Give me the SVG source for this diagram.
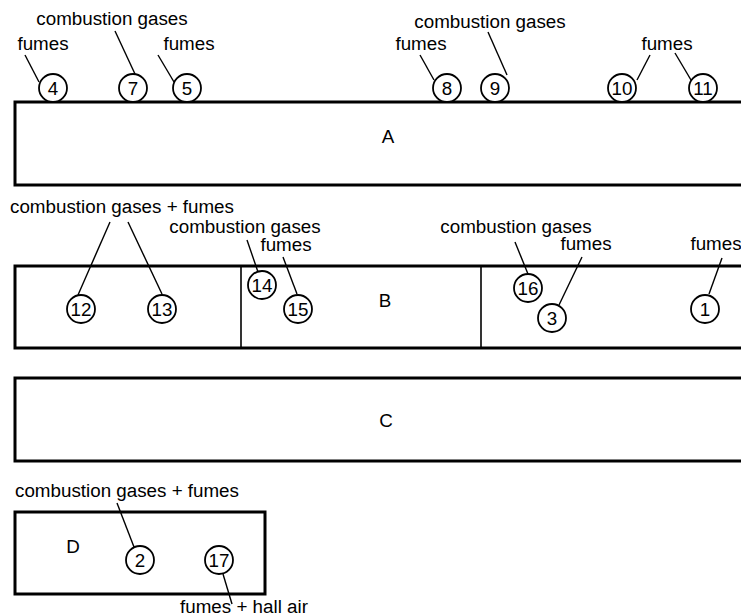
<svg xmlns="http://www.w3.org/2000/svg" width="741" height="616" viewBox="0 0 741 616">
  <style>
    .box { fill: none; stroke: #000; stroke-width: 3; }
    .div { fill: none; stroke: #000; stroke-width: 1.6; }
    .pt circle { fill: #fff; stroke: #000; stroke-width: 1.8; }
    .lead { stroke: #000; stroke-width: 1.4; fill: none; }
    text { font-family: "Liberation Sans", Arial, sans-serif; font-size: 18.8px; fill: #000; }
    .num { text-anchor: middle; }
    .lbl { text-anchor: middle; }
  </style>
  <rect width="741" height="616" fill="#fff"/>

  <!-- Sections -->
  <g id="A">
    <rect class="box" x="15" y="102" width="740" height="83"/>
    <text x="388" y="143" class="lbl">A</text>
  </g>
  <g id="B">
    <rect class="box" x="15" y="266" width="740" height="82"/>
    <line class="div" x1="241" y1="266" x2="241" y2="348"/>
    <line class="div" x1="481" y1="266" x2="481" y2="348"/>
    <text x="385" y="307" class="lbl">B</text>
  </g>
  <g id="C">
    <rect class="box" x="15" y="378" width="740" height="83"/>
    <text x="386" y="427" class="lbl">C</text>
  </g>
  <g id="D">
    <rect class="box" x="15" y="512" width="250" height="82"/>
    <text x="73" y="553" class="lbl">D</text>
  </g>

  <!-- Leader lines -->
  <g id="connectors">
    <line class="lead" x1="39" y1="82" x2="25" y2="55"/>
    <line class="lead" x1="135" y1="74" x2="115" y2="31"/>
    <line class="lead" x1="174" y1="82" x2="158" y2="55"/>
    <line class="lead" x1="434" y1="80" x2="420" y2="55"/>
    <line class="lead" x1="507" y1="75" x2="488" y2="32"/>
    <line class="lead" x1="637" y1="80" x2="650" y2="55"/>
    <line class="lead" x1="691" y1="80" x2="675" y2="53"/>
    <line class="lead" x1="78" y1="295" x2="110" y2="222"/>
    <line class="lead" x1="162" y1="294" x2="128" y2="222"/>
    <line class="lead" x1="258" y1="272" x2="247" y2="240"/>
    <line class="lead" x1="297" y1="294" x2="283" y2="257"/>
    <line class="lead" x1="528" y1="274" x2="515" y2="242"/>
    <line class="lead" x1="559" y1="305" x2="582" y2="257"/>
    <line class="lead" x1="709" y1="294" x2="722" y2="258"/>
    <line class="lead" x1="134" y1="547" x2="117" y2="503"/>
    <line class="lead" x1="223" y1="574" x2="232" y2="604"/>
  </g>

  <!-- Labels -->
  <g id="labels">
    <text x="43" y="50" class="lbl">fumes</text>
    <text x="112" y="25" class="lbl">combustion gases</text>
    <text x="189" y="50" class="lbl">fumes</text>
    <text x="421" y="50" class="lbl">fumes</text>
    <text x="490" y="28" class="lbl">combustion gases</text>
    <text x="667" y="50" class="lbl">fumes</text>
    <text x="122" y="213" class="lbl">combustion gases + fumes</text>
    <text x="245" y="233" class="lbl">combustion gases</text>
    <text x="286" y="251" class="lbl">fumes</text>
    <text x="516" y="233" class="lbl">combustion gases</text>
    <text x="586" y="250" class="lbl">fumes</text>
    <text x="716" y="250" class="lbl">fumes</text>
    <text x="127" y="497" class="lbl">combustion gases + fumes</text>
    <text x="244" y="613" class="lbl">fumes + hall air</text>
  </g>

  <!-- Measurement points -->
  <g id="p4" class="pt"><circle cx="53" cy="88" r="14"/><text x="53" y="95" class="num">4</text></g>
  <g id="p7" class="pt"><circle cx="133" cy="88" r="14"/><text x="133" y="95" class="num">7</text></g>
  <g id="p5" class="pt"><circle cx="187" cy="88" r="14"/><text x="187" y="95" class="num">5</text></g>
  <g id="p8" class="pt"><circle cx="447" cy="88" r="14"/><text x="447" y="95" class="num">8</text></g>
  <g id="p9" class="pt"><circle cx="495" cy="88" r="14"/><text x="495" y="95" class="num">9</text></g>
  <g id="p10" class="pt"><circle cx="622" cy="88" r="14"/><text x="622" y="95" class="num">10</text></g>
  <g id="p11" class="pt"><circle cx="703" cy="88" r="14"/><text x="703" y="95" class="num">11</text></g>
  <g id="p12" class="pt"><circle cx="81" cy="309" r="14"/><text x="81" y="316" class="num">12</text></g>
  <g id="p13" class="pt"><circle cx="162" cy="309" r="14"/><text x="162" y="316" class="num">13</text></g>
  <g id="p14" class="pt"><circle cx="262" cy="285" r="14"/><text x="262" y="292" class="num">14</text></g>
  <g id="p15" class="pt"><circle cx="298" cy="309" r="14"/><text x="298" y="316" class="num">15</text></g>
  <g id="p16" class="pt"><circle cx="528" cy="288" r="14"/><text x="528" y="295" class="num">16</text></g>
  <g id="p3" class="pt"><circle cx="552" cy="318" r="14"/><text x="552" y="325" class="num">3</text></g>
  <g id="p1" class="pt"><circle cx="705" cy="309" r="14"/><text x="705" y="316" class="num">1</text></g>
  <g id="p2" class="pt"><circle cx="140" cy="560" r="14"/><text x="140" y="567" class="num">2</text></g>
  <g id="p17" class="pt"><circle cx="219" cy="560" r="14"/><text x="219" y="567" class="num">17</text></g>
</svg>
